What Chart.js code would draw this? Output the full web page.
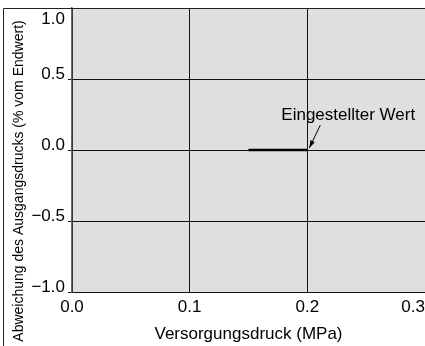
<!DOCTYPE html>
<html>
<head>
<meta charset="utf-8">
<script src="https://cdn.jsdelivr.net/npm/chart.js@4.4.1/dist/chart.umd.min.js"></script>
<style>
  html, body { margin: 0; padding: 0; background: #fff; overflow: hidden; }
  #wrap { width: 425px; height: 346px; position: relative; }
</style>
</head>
<body>
<div id="wrap"><canvas id="chart"></canvas></div>
<script>
// data
const supplyPressure = [0.15, 0.2];   // MPa
const deviation = [0, 0];             // % of full scale
const xTicks = [0, 0.1, 0.2, 0.3];
const yTicks = [-1, -0.5, 0, 0.5, 1];
const xTitle = 'Versorgungsdruck (MPa)';
const yTitle = 'Abweichung des Ausgangsdrucks (% vom Endwert)';
const noteText = 'Eingestellter Wert';
const notePoint = { x: 0.2, y: 0 };

const FONT = '"Liberation Sans", Arial, sans-serif';
const fmt = v => v.toFixed(1).replace('-', '\u2212');
const xLast = xTicks[xTicks.length - 1];
const yLast = yTicks[yTicks.length - 1];

const extras = {
  id: 'extras',
  beforeDraw(chart) {
    const { ctx, chartArea: a } = chart;
    ctx.save();
    ctx.fillStyle = '#dfdfdf';
    ctx.fillRect(a.left, a.top, a.right - a.left, a.bottom - a.top);
    ctx.restore();
  },
  afterDraw(chart) {
    const { ctx, chartArea: a, scales } = chart;
    const xs = scales.x, ys = scales.y;
    ctx.save();
    // outer frame
    ctx.strokeStyle = '#222';
    ctx.lineWidth = 1;
    ctx.beginPath();
    ctx.moveTo(3.5, chart.height + 2);
    ctx.lineTo(3.5, a.top + 0.5);
    ctx.lineTo(chart.width, a.top + 0.5);
    ctx.stroke();

    // y title, centred in the frame
    ctx.fillStyle = '#000';
    ctx.font = '14px ' + FONT;
    ctx.textAlign = 'center';
    ctx.textBaseline = 'middle';
    ctx.translate(19, (a.top + chart.height) / 2 + 4);
    ctx.rotate(-Math.PI / 2);
    ctx.fillText(yTitle, 0, 0);
    ctx.setTransform(1, 0, 0, 1, 0, 0);

    // edge tick labels, pulled inside the frame
    ctx.font = '17px ' + FONT;
    ctx.textAlign = 'right';
    ctx.textBaseline = 'middle';
    ctx.fillText(fmt(xLast), chart.width, xs.top + 15);
    ctx.fillText(fmt(yLast), a.left - 7, ys.getPixelForValue(yLast) + 11);

    // annotation with arrow
    const px = xs.getPixelForValue(notePoint.x);
    const py = ys.getPixelForValue(notePoint.y);
    ctx.textAlign = 'left';
    ctx.textBaseline = 'alphabetic';
    ctx.fillText(noteText, px - 26, py - 30);
    const sx = px + 13, sy = py - 25;
    const ex = px + 2, ey = py - 2;
    ctx.strokeStyle = '#000';
    ctx.lineWidth = 1;
    ctx.beginPath();
    ctx.moveTo(sx, sy);
    ctx.lineTo(ex, ey);
    ctx.stroke();
    const ang = Math.atan2(ey - sy, ex - sx);
    ctx.beginPath();
    ctx.moveTo(ex, ey);
    ctx.lineTo(ex - 8 * Math.cos(ang - 0.3), ey - 8 * Math.sin(ang - 0.3));
    ctx.lineTo(ex - 8 * Math.cos(ang + 0.3), ey - 8 * Math.sin(ang + 0.3));
    ctx.closePath();
    ctx.fillStyle = '#000';
    ctx.fill();
    ctx.restore();
  }
};

new Chart(document.getElementById('chart'), {
  type: 'line',
  data: {
    datasets: [{
      data: supplyPressure.map((x, i) => ({ x: x, y: deviation[i] })),
      borderColor: '#000',
      borderWidth: 2.5,
      pointRadius: 0,
      fill: false,
      tension: 0
    }]
  },
  options: {
    responsive: true,
    maintainAspectRatio: false,
    animation: false,
    layout: { padding: { left: 0, right: 0, top: 8, bottom: 0 } },
    plugins: { legend: { display: false }, tooltip: { enabled: false } },
    scales: {
      x: {
        type: 'linear',
        min: xTicks[0],
        max: xLast,
        afterBuildTicks: s => { s.ticks = xTicks.map(v => ({ value: v })); },
        afterFit: s => { s.height = 54; s.paddingLeft = 0; s.paddingRight = 0; },
        grid: { color: '#111', lineWidth: 1, drawTicks: false },
        border: { color: '#111', width: 1 },
        ticks: {
          color: '#000',
          padding: 5,
          maxRotation: 0,
          font: { family: FONT, size: 17 },
          callback: v => (v === xLast ? '' : fmt(v))
        },
        title: {
          display: true,
          text: xTitle,
          color: '#000',
          font: { family: FONT, size: 17 },
          padding: { top: 0, bottom: 1 }
        }
      },
      y: {
        min: yTicks[0],
        max: yLast,
        afterBuildTicks: s => { s.ticks = yTicks.map(v => ({ value: v })); },
        afterFit: s => { s.width = 72; s.paddingTop = 0; s.paddingBottom = 0; },
        grid: { color: '#111', lineWidth: 1, drawTicks: true, tickLength: 4 },
        border: { color: '#666', width: 1.5 },
        ticks: {
          color: '#000',
          padding: 3,
          labelOffset: -5,
          font: { family: FONT, size: 17 },
          callback: v => (v === yLast ? '' : fmt(v))
        }
      }
    }
  },
  plugins: [extras]
});
</script>
</body>
</html>
